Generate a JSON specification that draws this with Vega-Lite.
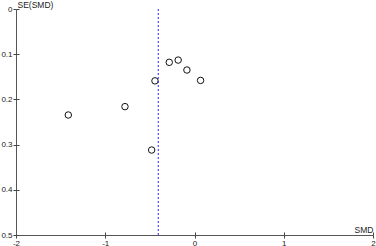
{
  "$schema": "https://vega.github.io/schema/vega-lite/v6.json",
  "width": 357,
  "height": 226,
  "autosize": {"type": "none"},
  "padding": {"left": 16, "top": 9, "right": 3, "bottom": 11},
  "config": {
    "view": {"stroke": null},
    "font": "Liberation Sans",
    "axis": {
      "grid": false,
      "domainColor": "#555555",
      "tickColor": "#444444",
      "tickSize": 3,
      "labelFontSize": 8,
      "labelColor": "#222222",
      "titleFontSize": 8.5,
      "titleFontWeight": "normal",
      "titleColor": "#222222",
      "labelPadding": 1
    }
  },
  "datasets": {
    "studies": [
      {"smd": -0.443, "se": 0.159},
      {"smd": -0.283, "se": 0.118},
      {"smd": -0.183, "se": 0.113},
      {"smd": -0.085, "se": 0.135},
      {"smd": 0.068, "se": 0.158},
      {"smd": -0.779, "se": 0.216},
      {"smd": -1.414, "se": 0.2345},
      {"smd": -0.48, "se": 0.312}
    ]
  },
  "resolve": {"axis": {"x": "independent", "y": "independent"}},
  "layer": [
    {
      "data": {"name": "studies"},
      "mark": {"type": "point", "shape": "circle", "filled": false, "color": "#111111", "size": 42, "strokeWidth": 1, "opacity": 1},
      "encoding": {
        "x": {"field": "smd", "type": "quantitative",
          "scale": {"domain": [-2, 2], "nice": false, "zero": false},
          "axis": {"orient": "bottom", "values": [-2, -1, 0, 1, 2], "title": "SMD", "titleX": 357, "titleY": -3, "titleAlign": "right", "titleBaseline": "alphabetic", "titleAnchor": null, "labelExpr": "'' + datum.value", "labelFlush": false}},
        "y": {"field": "se", "type": "quantitative",
          "scale": {"domain": [0, 0.5], "reverse": true, "nice": false},
          "axis": {"orient": "left", "values": [0, 0.1, 0.2, 0.3, 0.4, 0.5], "format": ".1~f", "title": "SE(SMD)", "titleAngle": 0, "titleX": 1, "titleY": -2, "titleAlign": "left", "titleBaseline": "alphabetic", "titleAnchor": null, "labelFlush": false}}
      }
    },
    {
      "data": {"name": "studies"},
      "mark": {"type": "point", "opacity": 0},
      "encoding": {
        "x": {"field": "smd", "type": "quantitative",
          "axis": {"orient": "bottom", "offset": -3, "domain": false, "labels": false, "title": null, "values": [-2, -1, 0, 1, 2]}},
        "y": {"field": "se", "type": "quantitative",
          "axis": {"orient": "left", "offset": -3, "domain": false, "labels": false, "title": null, "values": [0, 0.1, 0.2, 0.3, 0.4, 0.5]}}
      }
    },
    {
      "data": {"values": [{"pooled": -0.406}]},
      "mark": {"type": "rule", "color": "#2a2aff", "strokeDash": [2, 2], "strokeWidth": 1},
      "encoding": {
        "x": {"field": "pooled", "type": "quantitative", "axis": null}
      }
    }
  ]
}
